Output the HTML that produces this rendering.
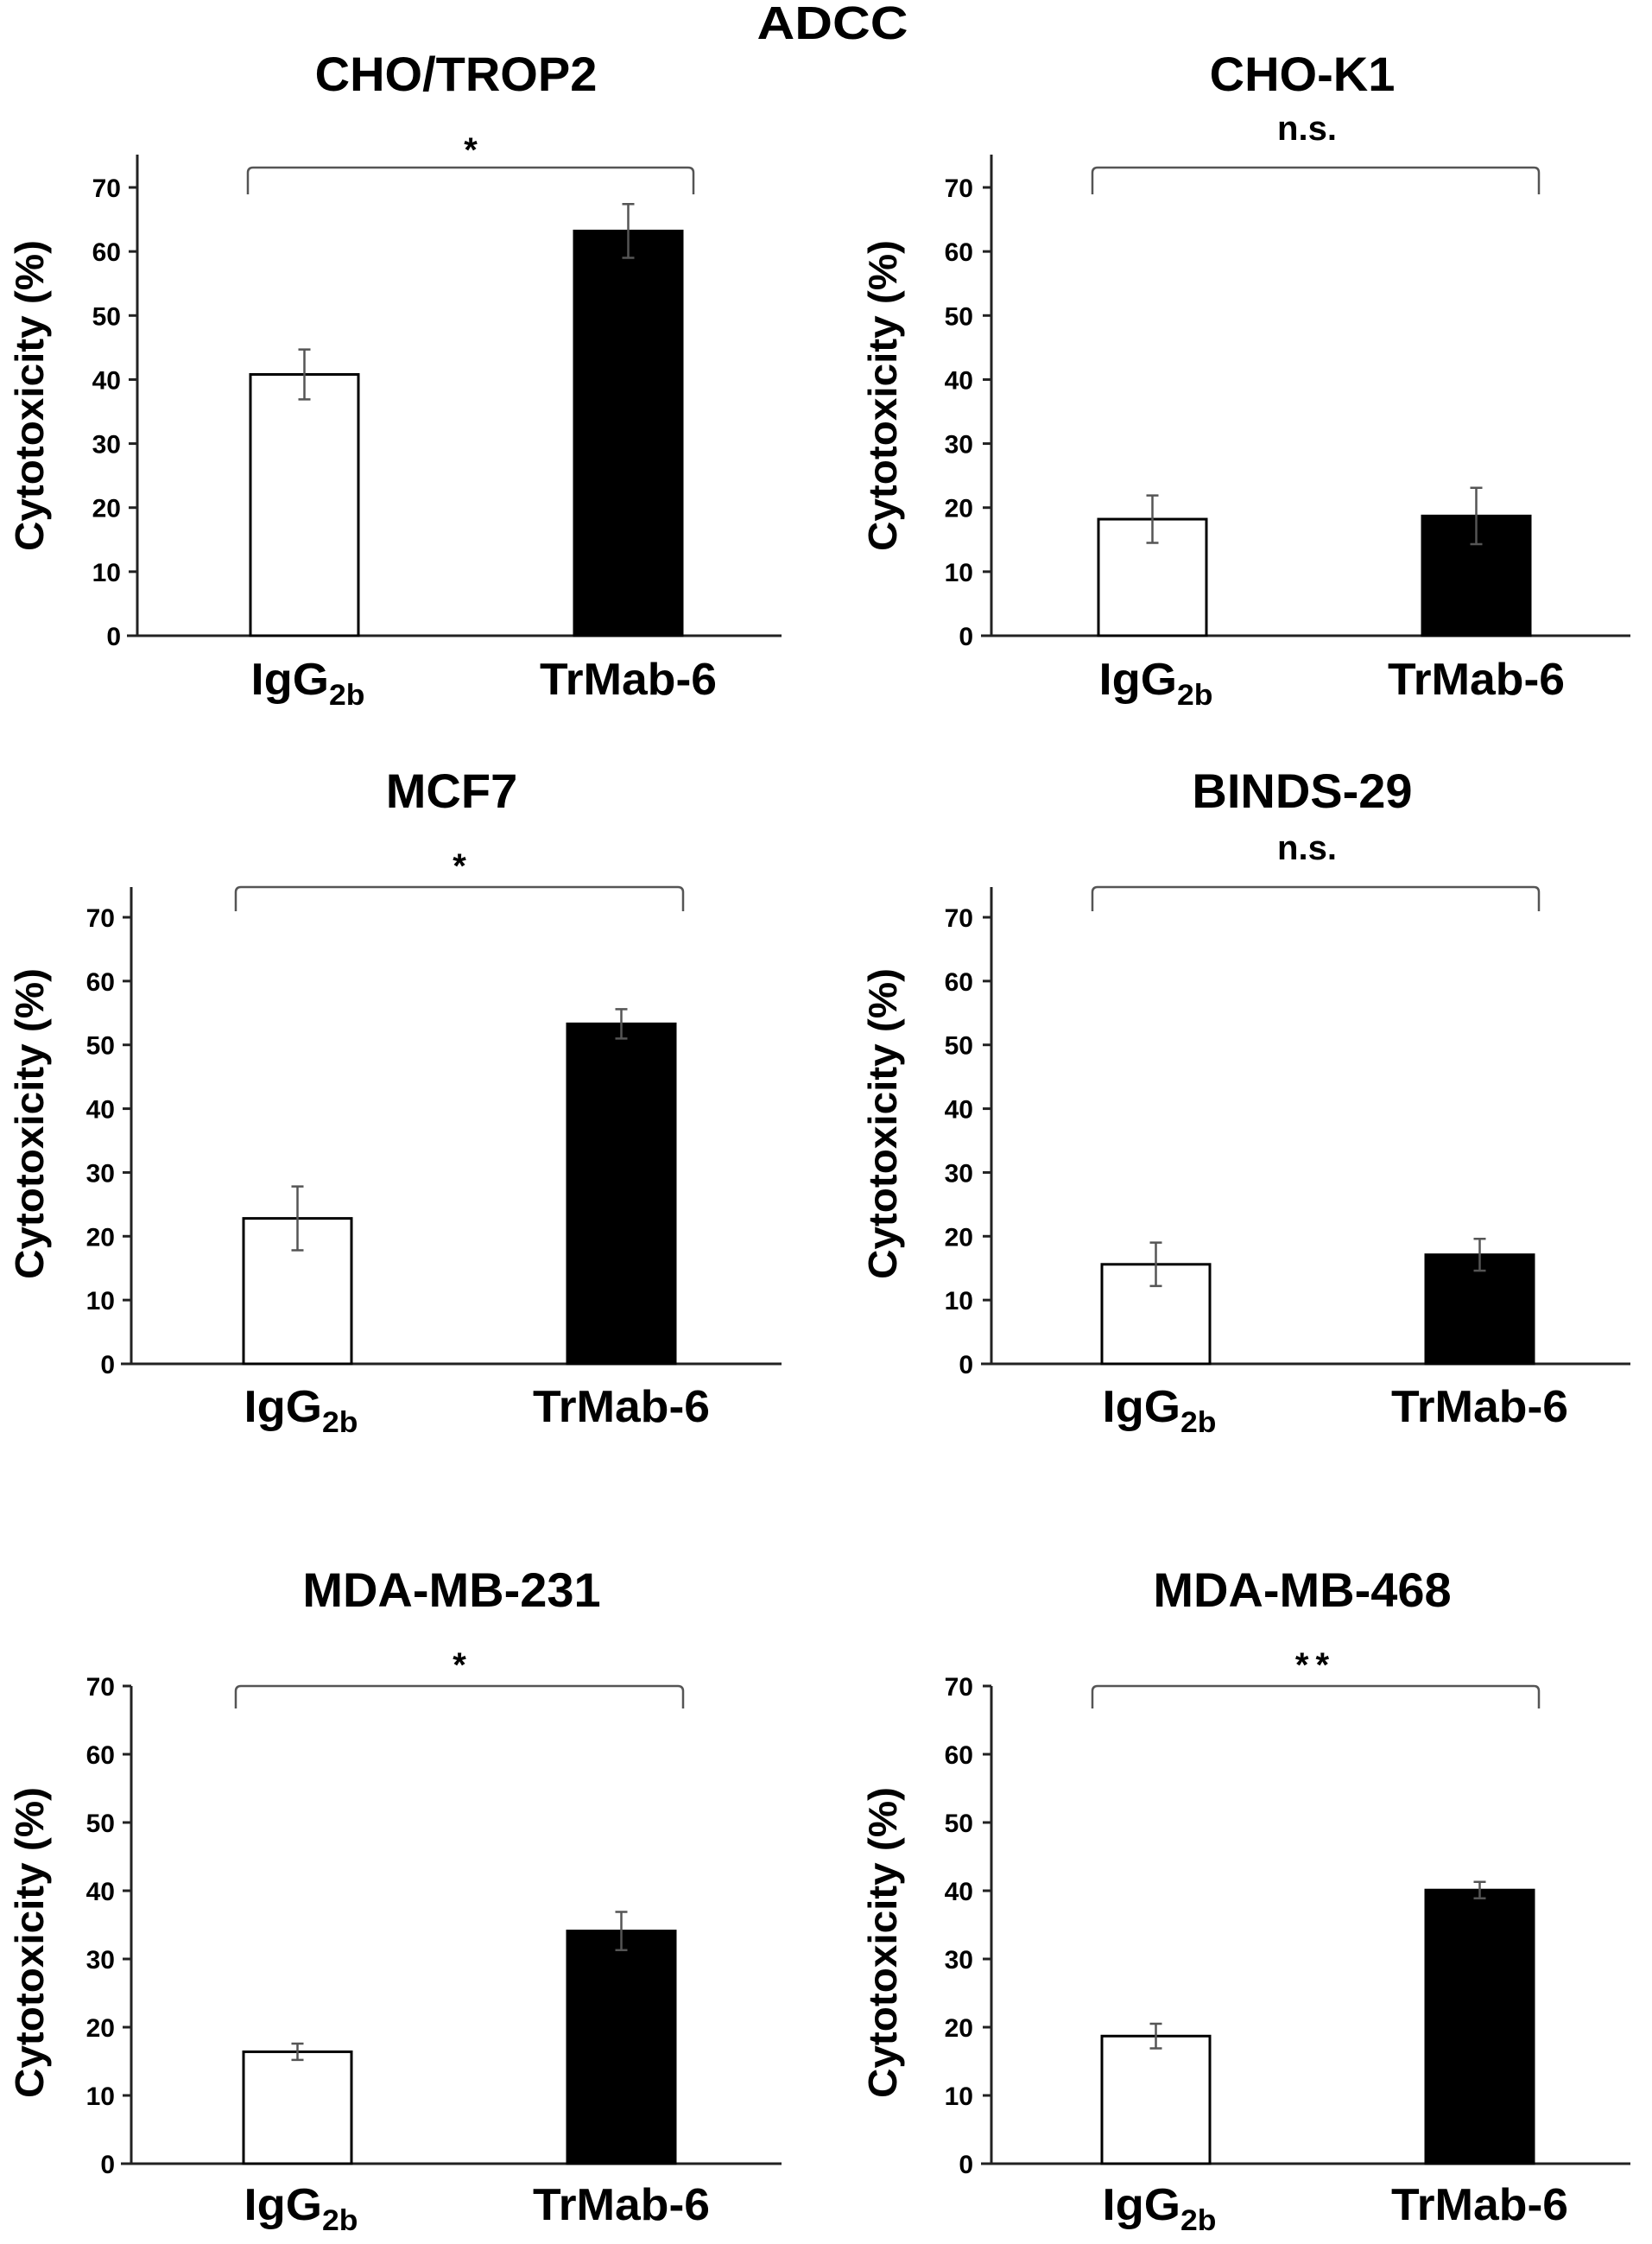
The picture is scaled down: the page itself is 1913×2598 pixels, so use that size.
<!DOCTYPE html>
<html><head><meta charset="utf-8"><style>
html,body{margin:0;padding:0;background:#fff;}
svg{display:block;font-family:"Liberation Sans",Arial,sans-serif;font-weight:bold;}
</style></head><body>
<svg id="chart" width="1913" height="2598" viewBox="0 0 1913 2598" xmlns="http://www.w3.org/2000/svg">
<text x="964" y="45" text-anchor="middle" font-size="54" textLength="175" lengthAdjust="spacingAndGlyphs">ADCC</text>
</svg>
<script>
const panelTitles = ["CHO/TROP2","CHO-K1","MCF7","BINDS-29","MDA-MB-231","MDA-MB-468"];
const significance = ["*","n.s.","*","n.s.","*","**"];
const categories = ["IgG2b","TrMab-6"];
const iggValues = [40.8,18.2,22.8,15.6,16.4,18.7];
const iggErrors = [3.9,3.7,5.0,3.4,1.2,1.8];
const trmabValues = [63.2,18.7,53.3,17.1,34.1,40.1];
const trmabErrors = [4.2,4.4,2.3,2.5,2.8,1.2];
const yTicks = [0,10,20,30,40,50,60,70];

const svg = document.getElementById('chart');
const NS = 'http://www.w3.org/2000/svg';
function mk(tag, attrs){const e=document.createElementNS(NS,tag);for(const k in attrs)e.setAttribute(k,attrs[k]);svg.appendChild(e);return e;}

const colLayout = [
  {axisX:159, axisEnd:905, bars:[290,665], barW:125, bracket:[287,803], ytX:34, tickR:140, titleDx:-12},
  {axisX:1148, axisEnd:1888, bars:[1272,1647], barW:125, bracket:[1265,1782], ytX:1022, tickR:1127, titleDx:-14}
];
const rowLayout = [
  {zero:736, top70:217, axisTop:179, title:105, brY:194, brEnd:225, star:169, labY:804, ytC:458},
  {zero:1579, top70:1062, axisTop:1027, title:935, brY:1027, brEnd:1055, star:998, labY:1646, ytC:1301},
  {zero:2505, top70:1952, axisTop:1952, title:1860, brY:1952, brEnd:1978, star:1923, labY:2570, ytC:2249}
];

for(let p=0;p<6;p++){
  const c = colLayout[p%2], r = rowLayout[Math.floor(p/2)];
  const rowIdx = Math.floor(p/2);
  const x0 = (p%2===0 && rowIdx>0) ? 152 : c.axisX;
  const shift = x0 - c.axisX;
  const y = v => r.zero - (r.zero - r.top70) * v / 70;

  let tdx = c.titleDx;
  if(p%2===0 && rowIdx>0) tdx = -10;
  const t = mk('text',{x:(c.bars[0]+c.bars[1]+c.barW)/2+shift+tdx, y:r.title, 'text-anchor':'middle','font-size':56});
  
  
  t.textContent = panelTitles[p];

  const yax = mk('line',{x1:x0,y1:r.axisTop,x2:x0,y2:r.zero,stroke:'#222','stroke-width':3});
  
  
  const xax = mk('line',{x1:x0-12,y1:r.zero,x2:c.axisEnd,y2:r.zero,stroke:'#222','stroke-width':3});
  
  

  yTicks.forEach(v=>{
    const tk = mk('line',{x1:x0-10,y1:y(v),x2:x0,y2:y(v),stroke:'#222','stroke-width':3});
    
    
    const tl = mk('text',{x:c.tickR+shift,y:y(v)+11,'text-anchor':'end','font-size':30});
    
    
    tl.textContent = v;
  });

  const yt = mk('text',{x:0,y:0,'text-anchor':'middle','font-size':46,textLength:360,lengthAdjust:'spacingAndGlyphs',transform:`translate(${c.ytX+16},${r.ytC}) rotate(-90)`});
  
  
  yt.textContent = 'Cytotoxicity (%)';

  const vals=[iggValues[p],trmabValues[p]], errs=[iggErrors[p],trmabErrors[p]];
  for(let b=0;b<2;b++){
    const bx = c.bars[b] + (rowIdx>0 ? (p%2===0?-8:4) : 0);
    const rect = mk('rect',{x:bx,y:y(vals[b]),width:c.barW,height:r.zero-y(vals[b]),fill:b?'#000':'#fff',stroke:'#000','stroke-width':3});
    
    
    const cx = bx + c.barW/2;
    const hi=y(vals[b]+errs[b]), lo=y(vals[b]-errs[b]);
    const eb = mk('path',{d:`M${cx},${hi}V${lo}M${cx-7},${hi}H${cx+7}M${cx-7},${lo}H${cx+7}`,stroke:'#555','stroke-width':2.5,fill:'none'});
    
    

    const lab = mk('text',{x:cx+(b===0?4:0),y:r.labY,'text-anchor':'middle','font-size':52});
    
    
    if(b===0){
      lab.setAttribute('textLength', 132);
      lab.setAttribute('lengthAdjust','spacingAndGlyphs');
      lab.innerHTML = 'IgG<tspan font-size="34" dy="12">2b</tspan>';
    } else {
      lab.setAttribute('textLength', 205);
      lab.setAttribute('lengthAdjust','spacingAndGlyphs');
      lab.textContent = categories[1];
    }
  }

  const bl = c.bracket[0] + (rowIdx>0 && p%2===0 ? -14 : 0), br = c.bracket[1] + (rowIdx>0 && p%2===0 ? -12 : 0);
  const brk = mk('path',{d:`M${bl},${r.brEnd}V${r.brY+6}Q${bl},${r.brY} ${bl+6},${r.brY}H${br-6}Q${br},${r.brY} ${br},${r.brY+6}V${r.brEnd}`,stroke:'#555','stroke-width':2.5,fill:'none'});
  
  
  const sig = significance[p];
  const sdx = sig==='n.s.' ? -10 : 0;
  const st = mk('text',{x:(bl+br)/2+sdx,y:sig==='n.s.'?r.brY-32:r.star+18,'text-anchor':'middle','font-size':40});
  
  
  if(sig==='**') st.setAttribute('letter-spacing','8');
  st.textContent = sig;
}
</script>
</body></html>
